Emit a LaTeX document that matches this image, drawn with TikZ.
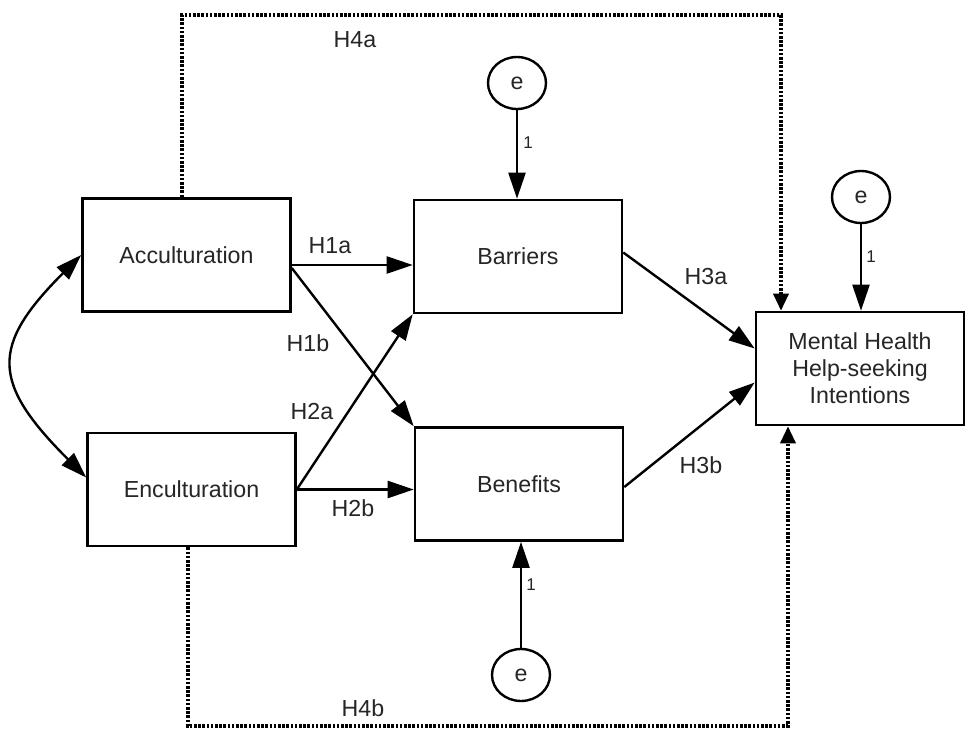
\documentclass[tikz,border=0pt]{standalone}
\usepackage{fontspec}
\setmainfont{Liberation Sans}
\usepackage{tikz}
\usetikzlibrary{shapes.geometric, arrows.meta, calc}

\begin{document}
\begin{tikzpicture}[
    x=0.5pt, y=-0.5pt,
    >={Triangle[length=13pt, width=8.5pt]},
    box/.style={draw, line width=1.3pt, minimum width=104pt, minimum height=56.5pt, inner sep=0pt, align=center, font=\fontsize{11.6}{13.5}\selectfont, text=black!85},
    err/.style={draw, ellipse, line width=1.2pt, minimum width=29pt, minimum height=26pt, inner sep=0pt, font=\fontsize{11.6}{13.5}\selectfont, text=black!85},
    lbl/.style={font=\fontsize{11.6}{13.5}\selectfont, text=black!85},
    one/.style={font=\fontsize{8.5}{10}\selectfont, text=black!85},
    arr/.style={->, line width=1.2pt},
    dotarr/.style={-{Triangle[length=8.5pt, width=7.5pt]}, line width=1.7pt, dash pattern=on 1.3pt off 0.8pt},
]
\path[use as bounding box, fill=white] (0,0) rectangle (966,729);

% latent constructs
\node[box] (acc) at (186.5,255) {Acculturation};
\node[box] (enc) at (191.5,489.5) {Enculturation};
\node[box] (bar) at (518,256.5) {Barriers};
\node[box] (ben) at (519,484) {Benefits};
\node[box] (mh) at (860,368.5) {Mental Health\\Help-seeking\\Intentions};

% error terms
\node[err] (ebar) at (517,83) {e};
\node[err] (emh) at (861,197) {e};
\node[err] (eben) at (521,675) {e};

% paths
\draw[<->, line width=1.2pt] (acc.west) .. controls +(-91,91) and +(-95,-95) .. ([yshift=6pt]enc.west);
\draw[arr] ([yshift=-5pt]acc.east) -- ([yshift=-5pt]acc.east -| bar.west);
\draw[arr] ([yshift=-6.5pt]acc.east) -- (ben.north west);
\draw[arr] (enc.east) -- (bar.south west);
\draw[arr] (enc.east) -- (enc.east -| ben.west);
\draw[arr] ([yshift=2pt]bar.east) -- ([yshift=10pt]mh.west);
\draw[arr] ([yshift=-1.5pt]ben.east) -- ([yshift=-7pt]mh.west);
\draw[arr] (ebar) -- (ebar |- bar.north);
\draw[arr] (emh) -- (emh |- mh.north);
\draw[arr] (eben) -- (eben |- ben.south);

% indirect paths
\coordinate (h4atop) at (781,15);
\coordinate (h4bbot) at (788,726);
\draw[dotarr] ([xshift=-2.25pt]acc.north) |- (h4atop) -- (h4atop |- mh.north);
\draw[dotarr] ([xshift=-1.75pt]enc.south) |- (h4bbot) -- (h4bbot |- mh.south);

% labels
\node[lbl] (h1a) at (330,246) {H1a};
\node[lbl] (h1b) at (308,343) {H1b};
\node[lbl] (h2a) at (312,412) {H2a};
\node[lbl] (h2b) at (353,508) {H2b};
\node[lbl] (h3a) at (706,277) {H3a};
\node[lbl] (h3b) at (701,465) {H3b};
\node[lbl] (h4a) at (355,40) {H4a};
\node[lbl] (h4b) at (363,708) {H4b};
\node[one] (oneb) at (528,143) {1};
\node[one] (onem) at (871,257) {1};
\node[one] (onen) at (531,585) {1};
\end{tikzpicture}
\end{document}
